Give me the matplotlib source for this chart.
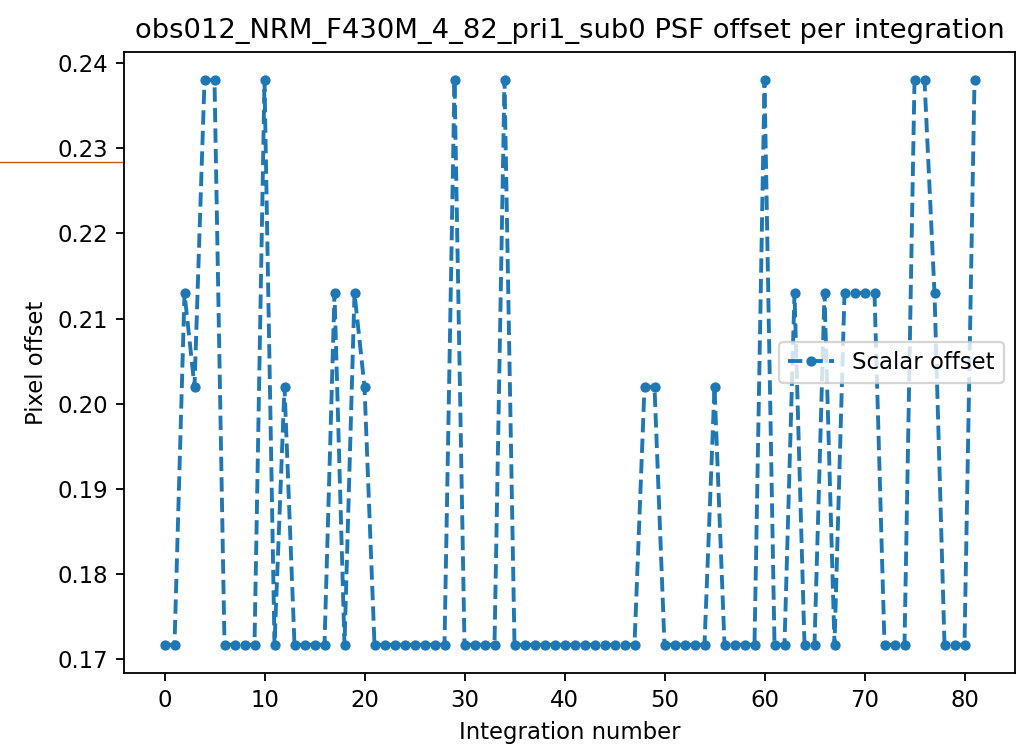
import matplotlib
matplotlib.use("Agg")
import matplotlib.pyplot as plt
from matplotlib.lines import Line2D

HI = 0.2380
M1 = 0.2130
M2 = 0.2020
LO = 0.1717

integration = list(range(82))
offsets = [
    LO, LO, M1, M2, HI, HI, LO, LO, LO, LO,   # 0-9
    HI, LO, M2, LO, LO, LO, LO, M1, LO, M1,   # 10-19
    M2, LO, LO, LO, LO, LO, LO, LO, LO, HI,   # 20-29
    LO, LO, LO, LO, HI, LO, LO, LO, LO, LO,   # 30-39
    LO, LO, LO, LO, LO, LO, LO, LO, M2, M2,   # 40-49
    LO, LO, LO, LO, LO, M2, LO, LO, LO, LO,   # 50-59
    HI, LO, LO, M1, LO, LO, M1, LO, M1, M1,   # 60-69
    M1, M1, LO, LO, LO, HI, HI, M1, LO, LO,   # 70-79
    LO, HI,                                   # 80-81
]

title = "obs012_NRM_F430M_4_82_pri1_sub0 PSF offset per integration"

dpi = 164
fig = plt.figure(figsize=(1019 / dpi, 746 / dpi), dpi=dpi)
ax = fig.add_axes([124 / 1019, 1 - 673 / 746, (1015 - 124) / 1019, (673 - 52) / 746])
ax.plot(integration, offsets, '.--', label="Scalar offset", lw=1.7, ms=7)
ax.set_xlabel("Integration number")
ax.set_ylabel("Pixel offset")
ax.set_title(title)
ax.legend(loc="center right")

fig.add_artist(Line2D([0, 122 / 1019], [1 - 162 / 746, 1 - 162 / 746],
                      transform=fig.transFigure, color="#cc5500", lw=0.6))

fig.savefig("out.png", dpi=dpi)
